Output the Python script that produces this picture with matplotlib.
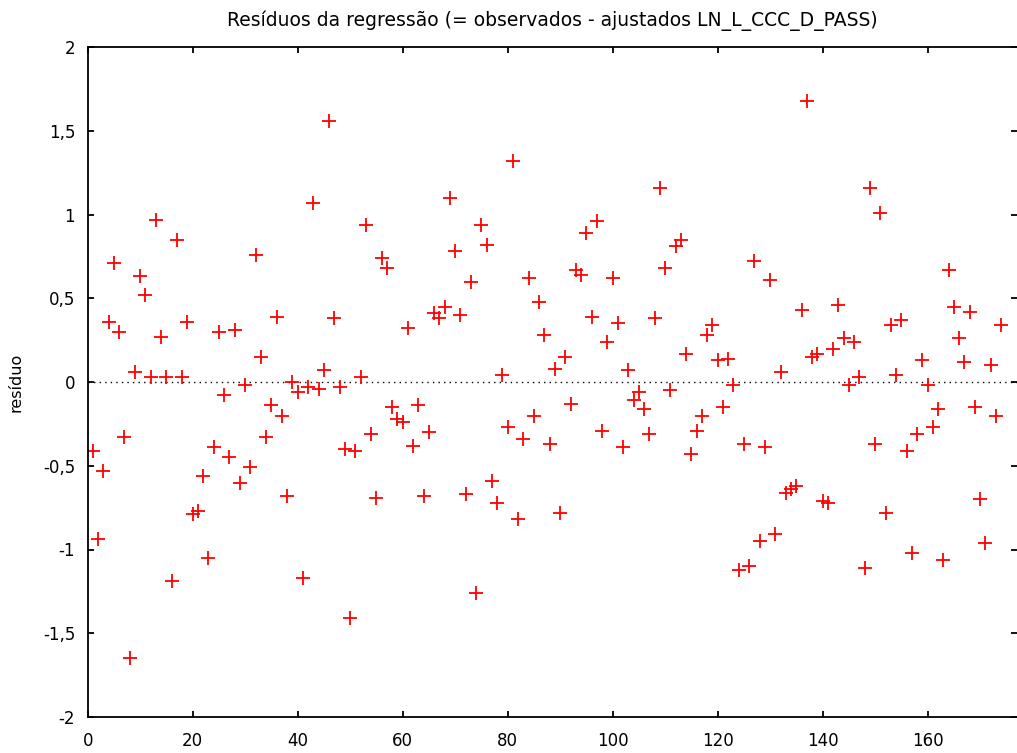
import matplotlib
matplotlib.use("Agg")
import matplotlib.pyplot as plt
from matplotlib.ticker import FuncFormatter

obs = list(range(1, 175))
residuals = [
    -0.41, -0.94, -0.53, 0.36, 0.71, 0.30, -0.33, -1.65, 0.06, 0.63,
    0.52, 0.03, 0.97, 0.27, 0.03, -1.19, 0.85, 0.03, 0.36, -0.79,
    -0.77, -0.56, -1.05, -0.39, 0.30, -0.08, -0.45, 0.31, -0.60, -0.02,
    -0.51, 0.76, 0.15, -0.33, -0.14, 0.39, -0.20, -0.68, 0.00, -0.06,
    -1.17, -0.03, 1.07, -0.04, 0.07, 1.56, 0.38, -0.03, -0.40, -1.41,
    -0.41, 0.03, 0.94, -0.31, -0.69, 0.74, 0.68, -0.15, -0.22, -0.24,
    0.32, -0.38, -0.14, -0.68, -0.30, 0.41, 0.38, 0.45, 1.10, 0.78,
    0.40, -0.67, 0.60, -1.26, 0.94, 0.82, -0.59, -0.72, 0.04, -0.27,
    1.32, -0.82, -0.34, 0.62, -0.20, 0.48, 0.28, -0.37, 0.08, -0.78,
    0.15, -0.13, 0.67, 0.64, 0.89, 0.39, 0.96, -0.29, 0.24, 0.62,
    0.35, -0.39, 0.07, -0.11, -0.06, -0.16, -0.31, 0.38, 1.16, 0.68,
    -0.05, 0.81, 0.85, 0.17, -0.43, -0.29, -0.20, 0.28, 0.34, 0.13,
    -0.15, 0.14, -0.02, -1.12, -0.37, -1.10, 0.72, -0.95, -0.39, 0.61,
    -0.91, 0.06, -0.66, -0.64, -0.62, 0.43, 1.68, 0.15, 0.17, -0.71,
    -0.72, 0.20, 0.46, 0.26, -0.02, 0.24, 0.03, -1.11, 1.16, -0.37,
    1.01, -0.78, 0.34, 0.04, 0.37, -0.41, -1.02, -0.31, 0.13, -0.02,
    -0.27, -0.16, -1.06, 0.67, 0.45, 0.26, 0.12, 0.42, -0.15, -0.70,
    -0.96, 0.10, -0.20, 0.34,
]
x_ticks = [0, 20, 40, 60, 80, 100, 120, 140, 160]
y_ticks = [-2, -1.5, -1, -0.5, 0, 0.5, 1, 1.5, 2]
title = "Resíduos da regressão (= observados - ajustados LN_L_CCC_D_PASS)"
ylabel = "resíduo"

W, H = 1017, 753
fig = plt.figure(figsize=(W / 100, H / 100), dpi=100)
left, right, top, bottom = 87.7, 1017.0, 47.0, 717.0
ax = fig.add_axes([left / W, 1 - bottom / H, (right - left) / W, (bottom - top) / H])

ax.plot(obs, residuals, linestyle="none", marker="+", color="#ff0000",
        markersize=9.5, markeredgewidth=1.3)
ax.axhline(0, color="black", linestyle=(0, (1, 3)), linewidth=1.0, zorder=1)

ax.set_xlim(0, 177)
ax.set_ylim(-2, 2)
ax.set_xticks(x_ticks)
ax.set_yticks(y_ticks)

def fmt(v, pos):
    return ("%g" % v).replace(".", ",")
ax.yaxis.set_major_formatter(FuncFormatter(fmt))

for s in ["left", "bottom", "top"]:
    ax.spines[s].set_linewidth(1.3)
    ax.spines[s].set_color("black")
ax.spines["right"].set_visible(False)

ax.tick_params(axis="both", which="major", direction="in", length=4.5, width=1.3,
               top=True, right=True, labelsize=12, colors="black")
ax.tick_params(axis="y", pad=9)
ax.tick_params(axis="x", pad=11)

ax.set_title(title, fontsize=13.5, pad=15)
ax.set_ylabel(ylabel, fontsize=11.5, labelpad=14)

fig.savefig("out.png", dpi=100)
